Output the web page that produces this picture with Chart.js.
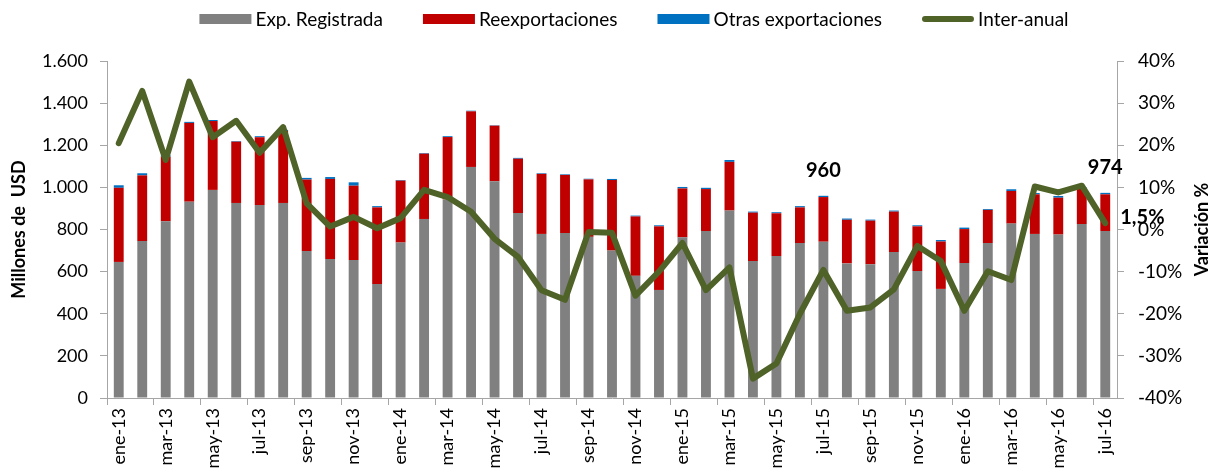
<!DOCTYPE html>
<html>
<head>
<meta charset="utf-8">
<script src="https://cdn.jsdelivr.net/npm/chart.js@4"></script>
<style>
  html, body { margin: 0; padding: 0; background: #fff; }
  #wrap { width: 1213px; height: 473px; }
</style>
</head>
<body>
<div id="wrap"><canvas id="grafico"></canvas></div>
<script>
// meses ene-13 .. jul-16
const meses = ['ene-13','feb-13','mar-13','abr-13','may-13','jun-13','jul-13','ago-13','sep-13','oct-13','nov-13','dic-13',
  'ene-14','feb-14','mar-14','abr-14','may-14','jun-14','jul-14','ago-14','sep-14','oct-14','nov-14','dic-14',
  'ene-15','feb-15','mar-15','abr-15','may-15','jun-15','jul-15','ago-15','sep-15','oct-15','nov-15','dic-15',
  'ene-16','feb-16','mar-16','abr-16','may-16','jun-16','jul-16'];

// millones de USD
const expRegistrada = [646,745,839,932,988,926,916,926,698,660,655,541,
  738,850,943,1097,1029,878,779,783,765,700,580,513,
  763,793,890,650,674,736,742,639,635,693,603,518,
  641,736,828,779,776,826,793];
const reexportaciones = [352,312,307,374,327,291,322,342,339,380,353,364,
  294,310,296,264,264,258,285,276,273,335,282,302,
  232,199,231,230,203,169,212,207,207,192,212,225,
  161,157,155,188,175,170,174];
const otrasExport = [12,10,6,5,5,3,5,5,8,9,16,6,
  3,3,4,3,2,4,3,3,3,5,4,5,
  7,6,9,5,5,6,6,6,5,5,5,7,
  7,4,8,6,8,4,7];

// variación inter-anual (%)
const interAnual = [20.5,32.9,16.5,35.1,21.9,25.8,18.2,24.3,6.2,0.7,3.0,0.3,
  2.7,9.4,7.7,4.2,-2.2,-6.5,-14.4,-16.7,-0.6,-0.8,-15.7,-10.0,
  -3.2,-14.4,-9.0,-35.4,-31.8,-20.0,-9.6,-19.3,-18.5,-14.2,-3.9,-7.5,
  -19.3,-9.9,-12.0,10.2,8.8,10.4,1.5];

// meses con etiqueta de total y variación
const etiquetasTotal = [30, 42];
const etiquetasVar = [42];

const fuente = 'Lato, "Open Sans", sans-serif';
const gris = '#a6a6a6';

function miles(v) {
  return String(v).replace(/\B(?=(\d{3})+(?!\d))/g, '.');
}

// leyenda propia: cajas para barras, linea gruesa para la variacion
const leyenda = {
  id: 'leyenda',
  afterDraw(chart) {
    const ctx = chart.ctx;
    const caja = 52, hueco = 4, sep = 40, yc = 19;
    ctx.save();
    ctx.font = '19px ' + fuente;
    ctx.textBaseline = 'middle';
    const items = chart.data.datasets.map(d => ({ d, w: caja + hueco + ctx.measureText(d.label).width }));
    const total = items.reduce((a, it) => a + it.w, 0) + sep * (items.length - 1);
    let x = 634 - total / 2;
    items.forEach(it => {
      const d = it.d;
      if (d.type === 'line') {
        ctx.strokeStyle = d.borderColor;
        ctx.lineWidth = 6;
        ctx.lineCap = 'round';
        ctx.beginPath();
        ctx.moveTo(x + 3, yc);
        ctx.lineTo(x + caja - 3, yc);
        ctx.stroke();
      } else {
        ctx.fillStyle = d.backgroundColor;
        ctx.fillRect(x, yc - 5, caja, 10);
      }
      ctx.fillStyle = '#000';
      ctx.textAlign = 'left';
      ctx.fillText(d.label, x + caja + hueco, yc + 1);
      x += it.w + sep;
    });
    ctx.restore();
  }
};

// etiquetas de datos y titulo del eje derecho
const etiquetas = {
  id: 'etiquetas',
  afterDatasetsDraw(chart) {
    const ctx = chart.ctx;
    const x = chart.scales.x, y = chart.scales.y, y1 = chart.scales.y1;
    ctx.save();
    ctx.fillStyle = '#000';
    ctx.font = 'bold 20px ' + fuente;
    ctx.textAlign = 'center';
    ctx.textBaseline = 'middle';
    etiquetasTotal.forEach(i => {
      const total = expRegistrada[i] + reexportaciones[i] + otrasExport[i];
      ctx.fillText(miles(total), x.getPixelForValue(i), y.getPixelForValue(total) - 25);
    });
    ctx.textAlign = 'left';
    etiquetasVar.forEach(i => {
      const txt = interAnual[i].toFixed(1).replace('.', ',') + '%';
      ctx.fillText(txt, x.getPixelForValue(i) + 15, y1.getPixelForValue(interAnual[i]) - 6);
    });
    // titulo eje derecho, leido de abajo hacia arriba
    ctx.font = 'bold 18px ' + fuente;
    ctx.textAlign = 'center';
    ctx.translate(chart.width - 11, (chart.chartArea.top + chart.chartArea.bottom) / 2);
    ctx.rotate(-Math.PI / 2);
    ctx.fillText('Variación %', 0, 0);
    ctx.restore();
  }
};

const data = {
  labels: meses,
  datasets: [
    { label: 'Exp. Registrada', data: expRegistrada, backgroundColor: '#808080', stack: 's', order: 1,
      barPercentage: 0.42, categoryPercentage: 1 },
    { label: 'Reexportaciones', data: reexportaciones, backgroundColor: '#c00000', stack: 's', order: 1,
      barPercentage: 0.42, categoryPercentage: 1 },
    { label: 'Otras exportaciones', data: otrasExport, backgroundColor: '#0070c0', stack: 's', order: 1,
      barPercentage: 0.42, categoryPercentage: 1 },
    { label: 'Inter-anual', type: 'line', data: interAnual, yAxisID: 'y1', order: 0,
      borderColor: '#4f6228', backgroundColor: '#4f6228', borderWidth: 6,
      borderJoinStyle: 'round', borderCapStyle: 'round', pointRadius: 0, tension: 0 }
  ]
};

const config = {
  type: 'bar',
  data: data,
  options: {
    responsive: true,
    maintainAspectRatio: false,
    animation: false,
    layout: { padding: { top: 61, right: 0, left: 0, bottom: 0 } },
    plugins: {
      legend: { display: false },
      tooltip: { enabled: false }
    },
    scales: {
      x: {
        stacked: true,
        offset: true,
        grid: {
          display: true,
          drawOnChartArea: false,
          offset: true,
          tickLength: 7,
          color: c => (c.index !== undefined && c.index % 2 === 0) ? gris : 'rgba(0,0,0,0)'
        },
        border: { color: gris },
        ticks: {
          autoSkip: false,
          maxRotation: 90,
          minRotation: 90,
          font: { family: fuente, size: 18 },
          color: '#000',
          callback: (v, i) => i % 2 === 0 ? meses[i] : ''
        },
        afterFit: s => { s.height = 75; }
      },
      y: {
        stacked: true,
        min: 0,
        max: 1600,
        ticks: {
          stepSize: 200,
          font: { family: fuente, size: 18 },
          color: '#000',
          padding: 12,
          callback: v => miles(v)
        },
        grid: { drawOnChartArea: false, tickLength: 7, color: gris },
        border: { color: gris },
        title: {
          display: true,
          text: 'Millones de  USD',
          font: { family: fuente, size: 18, weight: 'bold' },
          color: '#000',
          padding: { top: 8, bottom: 0 }
        },
        afterFit: s => { s.width = 107; }
      },
      y1: {
        position: 'right',
        stacked: false,
        min: -40,
        max: 40,
        ticks: {
          stepSize: 10,
          font: { family: fuente, size: 19 },
          color: '#000',
          padding: 14,
          callback: v => v + '%'
        },
        grid: { drawOnChartArea: false, tickLength: 7, color: gris },
        border: { color: gris },
        afterFit: s => { s.width = 96; }
      }
    }
  },
  plugins: [leyenda, etiquetas]
};

new Chart(document.getElementById('grafico').getContext('2d'), config);
</script>
</body>
</html>
